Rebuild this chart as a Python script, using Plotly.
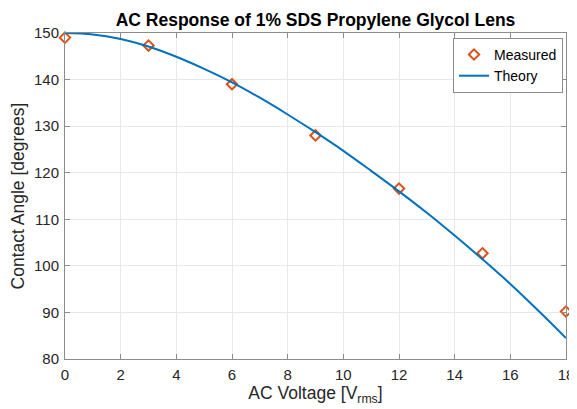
import plotly.graph_objects as go

meas_v = [0, 3, 6, 9, 12, 15, 18]
meas_theta = [149.0, 147.3, 139.0, 128.0, 116.6, 102.7, 90.2]

# Theory curve (at 1 V spacing)
theory_v = [0, 1, 2, 3, 4, 5, 6, 7, 8, 9, 10, 11, 12, 13, 14, 15, 16, 17, 18]
theory_theta = [150.0, 149.7, 148.7, 147.1, 144.9, 142.3, 139.4, 136.1, 132.5,
                128.7, 124.7, 120.4, 116.0, 111.4, 106.5, 101.4, 96.1, 90.4, 84.5]

x_ticks = [0, 2, 4, 6, 8, 10, 12, 14, 16, 18]
y_ticks = [80, 90, 100, 110, 120, 130, 140, 150]

font = "Liberation Sans, Arial, sans-serif"

fig = go.Figure()
fig.add_trace(go.Scatter(
    x=meas_v, y=meas_theta, mode="markers", name="Measured",
    marker=dict(symbol="diamond-open", size=8, color="#D95319",
                line=dict(width=2, color="#D95319")),
    cliponaxis=False,
))
fig.add_trace(go.Scatter(
    x=theory_v, y=theory_theta, mode="lines", name="Theory",
    line=dict(color="#0072BD", width=2, shape="spline"),
    cliponaxis=False,
))

axis_common = dict(
    showline=True, linecolor="#8c8c8c", linewidth=1, mirror="ticks",
    ticks="inside", ticklen=5, tickcolor="#8c8c8c",
    showgrid=True, gridcolor="#e8e8e8", gridwidth=1,
    zeroline=False, tickfont=dict(size=15, color="#262626", family=font),
    automargin=False,
)

# page body has an 8px default margin, so the figure is sized to fit the window
fig.update_layout(
    width=569, height=401,
    margin=dict(l=57, r=11, t=25, b=50),
    paper_bgcolor="white", plot_bgcolor="white",
    font=dict(family=font, color="#262626"),
    title=dict(text="<b>AC Response of 1% SDS Propylene Glycol Lens</b>",
               x=0.5, xanchor="center", xref="paper", y=1, yref="paper",
               yanchor="bottom", pad=dict(b=7), automargin=False,
               font=dict(size=17.5, color="#000000", family=font)),
    xaxis=dict(range=[0, 18], tickvals=x_ticks, ticklabelstandoff=2, **axis_common,
               title=dict(text="AC Voltage [V<sub>rms</sub>]", standoff=4,
                          font=dict(size=17.5, color="#262626", family=font))),
    yaxis=dict(range=[80, 150], tickvals=y_ticks, ticklabelstandoff=2, **axis_common,
               title=dict(text="Contact Angle [degrees]", standoff=6,
                          font=dict(size=17.5, color="#262626", family=font))),
    legend=dict(x=0.994, y=0.985, xanchor="right", yanchor="top",
                bgcolor="white", bordercolor="#8c8c8c", borderwidth=1,
                font=dict(size=14, color="#000000", family=font),
                tracegroupgap=0, itemwidth=30),
    showlegend=True,
)

fig.write_html("out.html")
